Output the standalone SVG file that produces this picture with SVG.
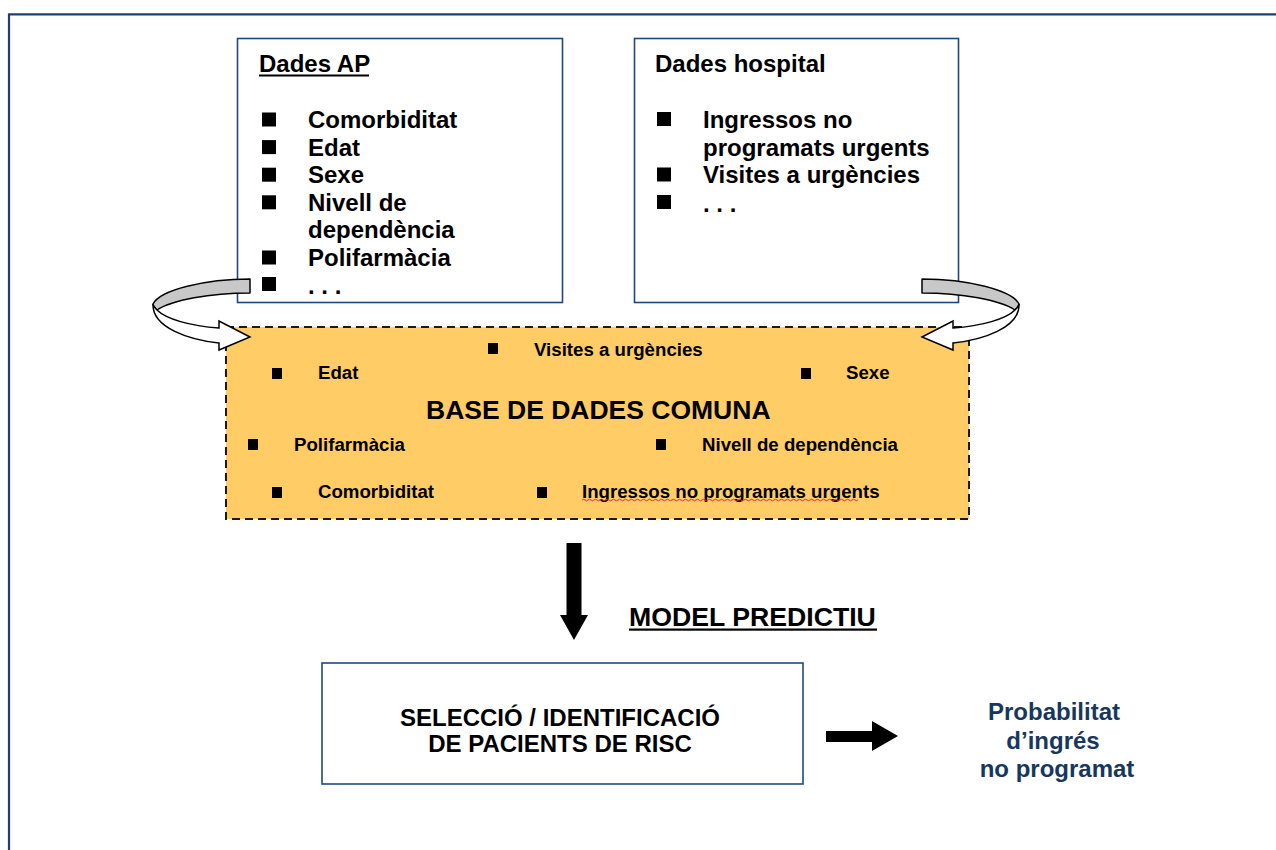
<svg xmlns="http://www.w3.org/2000/svg" width="1276" height="850" viewBox="0 0 1276 850">
<style>
text{font-family:"Liberation Sans",Arial,sans-serif;font-weight:bold;fill:#000}
.t24{font-size:24px}
.t19{font-size:18.67px}
.box{fill:#fff;stroke:#1F497D;stroke-width:1.6}
.bul{fill:#000}
.blue{fill:#17375E}
</style>
<defs>
<g id="curl">
<path d="M250,279 C205,279 160,290 153,304 C153,306 155,308 157,310 C172,300 210,293 250,293 Z" fill="#C8C8C8" stroke="#000" stroke-width="1.5" stroke-linejoin="round"/>
<path d="M153,304 C152,328 190,340 219,343 L219,350 L250,337 L219,321 L219,328 C190,326 166,319 157,310 C155,308 153,306 153,304 Z" fill="#fff" stroke="#000" stroke-width="1.5" stroke-linejoin="miter"/>
</g>
</defs>
<rect width="1276" height="850" fill="#fff"/>
<g id="frame" fill="none" stroke="#1F3F6E" stroke-width="2.2">
<path d="M9,850 V14.3 H1276"/>
</g>

<g id="node-ap">
<rect class="box" x="237.5" y="38.5" width="325" height="264"/>
<text class="t24" x="259" y="72">Dades AP</text>
<rect x="259" y="74.5" width="110" height="2" fill="#000"/>
<rect class="bul" x="262" y="112.5" width="14" height="14"/><text class="t24" x="308" y="128">Comorbiditat</text>
<rect class="bul" x="262" y="140.1" width="14" height="14"/><text class="t24" x="308" y="155.6">Edat</text>
<rect class="bul" x="262" y="167.7" width="14" height="14"/><text class="t24" x="308" y="183.2">Sexe</text>
<rect class="bul" x="262" y="195.3" width="14" height="14"/><text class="t24" x="308" y="210.8">Nivell de</text>
<text class="t24" x="308" y="238.4">dependència</text>
<rect class="bul" x="262" y="250.5" width="14" height="14"/><text class="t24" x="308" y="266">Polifarmàcia</text>
<rect class="bul" x="262" y="277" width="14" height="14"/><text class="t24" x="308" y="294">. . .</text>
</g>

<g id="node-hospital">
<rect class="box" x="634.5" y="38.5" width="324" height="264"/>
<text class="t24" x="655" y="72">Dades hospital</text>
<rect class="bul" x="657" y="112" width="14" height="14"/><text class="t24" x="703" y="128">Ingressos no</text>
<text class="t24" x="703" y="155.5">programats urgents</text>
<rect class="bul" x="657" y="167.5" width="14" height="14"/><text class="t24" x="703" y="183">Visites a urgències</text>
<rect class="bul" x="657" y="195" width="14" height="14"/><text class="t24" x="703" y="212">. . .</text>
</g>

<g id="node-base">
<rect x="226" y="327" width="743" height="192" fill="#FFCC66" stroke="#1a1a1a" stroke-width="2" stroke-dasharray="8 5"/>
<rect class="bul" x="488" y="343" width="10" height="11"/><text class="t19" x="534" y="355.5">Visites a urgències</text>
<rect class="bul" x="272" y="368" width="10" height="11"/><text class="t19" x="318" y="379">Edat</text>
<rect class="bul" x="801" y="368" width="10" height="11"/><text class="t19" x="846" y="379">Sexe</text>
<text x="426" y="419" font-size="26.5px">BASE DE DADES COMUNA</text>
<rect class="bul" x="248" y="439" width="10" height="11"/><text class="t19" x="294" y="451">Polifarmàcia</text>
<rect class="bul" x="656" y="439" width="10" height="11"/><text class="t19" x="702" y="451">Nivell de dependència</text>
<rect class="bul" x="272" y="487" width="10" height="11"/><text class="t19" x="318" y="497.5">Comorbiditat</text>
<rect class="bul" x="537" y="487" width="10" height="11"/><text class="t19" x="582" y="497.5">Ingressos no programats urgents</text>
<path d="M582,500 q1.5,-1.5 3,0 t3,0 t3,0 t3,0 t3,0 t3,0 t3,0 t3,0 t3,0 t3,0 t3,0 t3,0 t3,0 t3,0 t3,0 t3,0 t3,0 t3,0 t3,0 t3,0 t3,0 t3,0 t3,0 t3,0 t3,0 t3,0 t3,0 t3,0 t3,0 t3,0 t3,0 t3,0 t3,0 t3,0 t3,0 t3,0 t3,0 t3,0 t3,0 t3,0 t3,0 t3,0 t3,0 t3,0 t3,0 t3,0 t3,0 t3,0 t3,0 t3,0 t3,0 t3,0 t3,0 t3,0 t3,0 t3,0 t3,0 t3,0 t3,0 t3,0 t3,0 t3,0 t3,0 t3,0 t3,0 t3,0 t3,0 t3,0 t3,0 t3,0 t3,0 t3,0 t3,0 t3,0 t3,0 t3,0 t3,0 t3,0 t3,0 t3,0 t3,0 t3,0 t3,0 t3,0 t3,0 t3,0 t3,0 t3,0 t3,0 t3,0 t3,0 t3,0" fill="none" stroke="#E03030" stroke-width="1"/>
</g>

<g id="node-seleccio">
<rect class="box" x="322" y="663" width="481" height="121"/>
<text class="t24" x="560" y="725.5" text-anchor="middle">SELECCIÓ / IDENTIFICACIÓ</text>
<text class="t24" x="560" y="751.5" text-anchor="middle">DE PACIENTS DE RISC</text>
</g>

<g id="node-model">
<text x="629" y="626" font-size="26.67px">MODEL PREDICTIU</text>
<rect x="629" y="628.5" width="248" height="2.2" fill="#000"/>
</g>

<g id="node-probabilitat">
<text class="t24 blue" x="1054" y="720" text-anchor="middle">Probabilitat</text>
<text class="t24 blue" x="1053" y="749" text-anchor="middle">d’ingrés</text>
<text class="t24 blue" x="1057" y="777" text-anchor="middle">no programat</text>
</g>

<g id="connectors">
<use href="#curl"/>
<use href="#curl" transform="matrix(-1 0 0 1 1172 0)"/>
<polygon points="566.5,543 581.5,543 581.5,615 588,615 574,640 560,615 566.5,615" fill="#000"/>
<polygon points="826,731 872,731 872,721 898,736 872,751 872,742 826,742" fill="#000"/>
</g>
</svg>
